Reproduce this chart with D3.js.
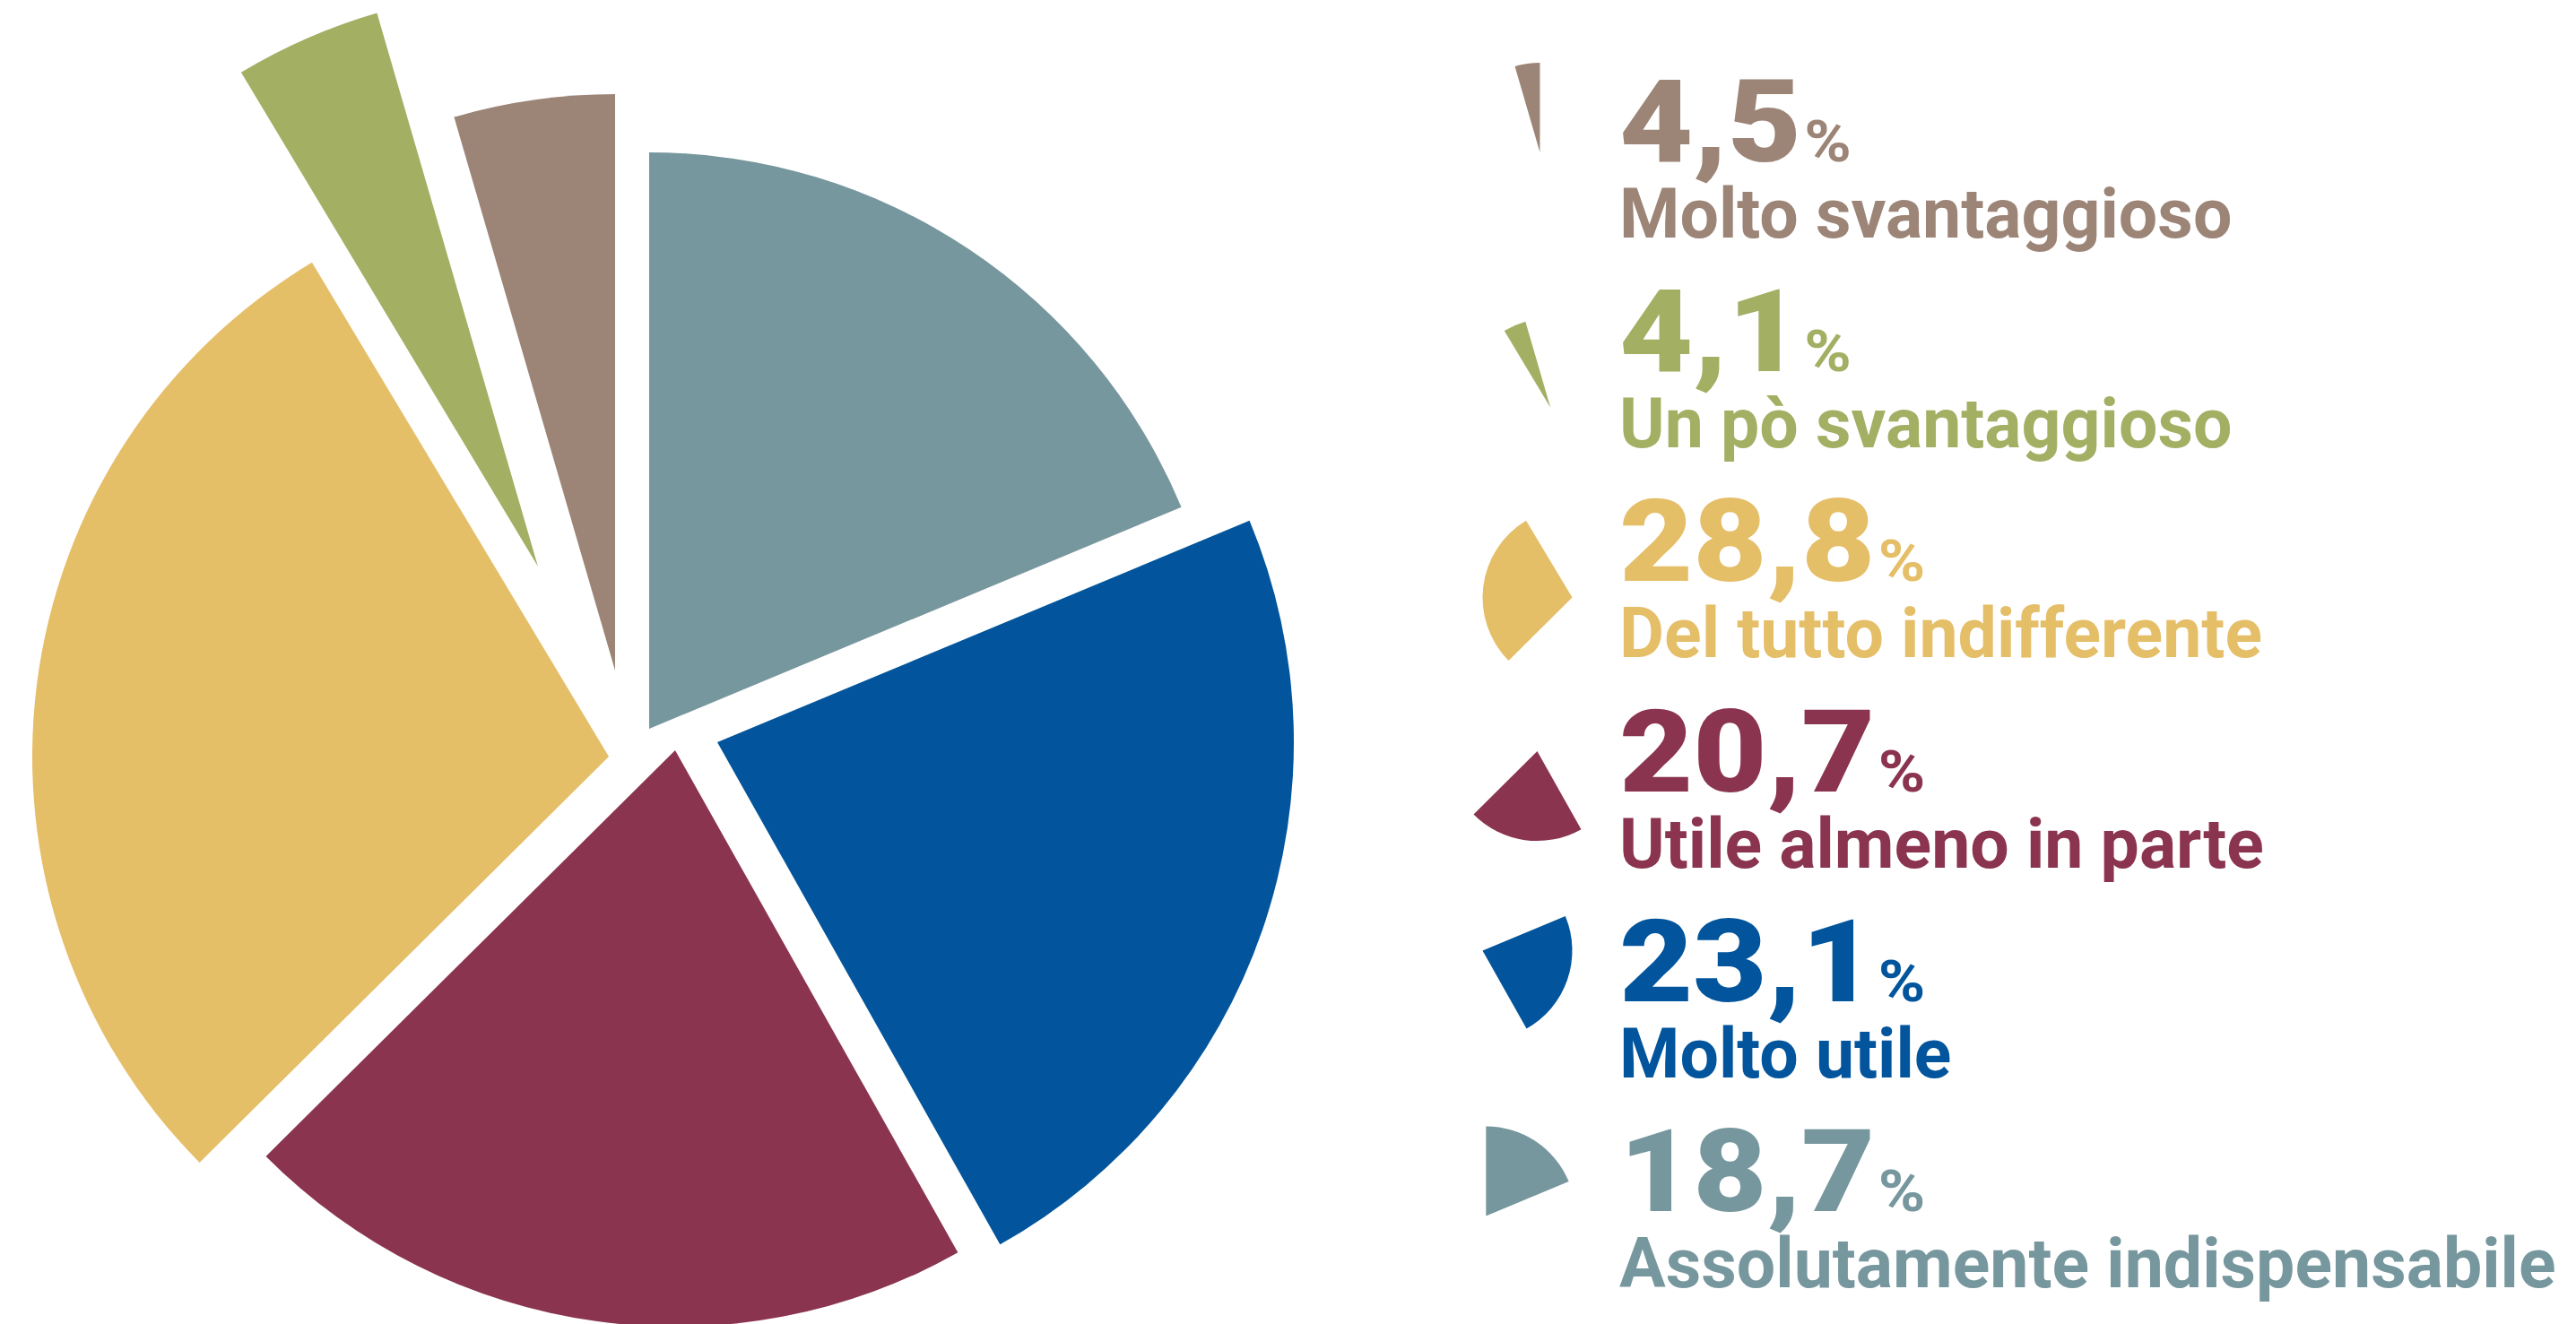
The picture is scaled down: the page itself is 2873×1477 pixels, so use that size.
<!DOCTYPE html>
<html>
<head>
<meta charset="UTF-8"/>
<title>Pie</title>
<script src="https://d3js.org/d3.v7.min.js"></script>
<style>
body { margin: 0; background: #fff; }
svg { display: block; }
text { font-family: Roboto, 'Open Sans', sans-serif; }
text.num { font-weight: 900; font-size: 128px; }
text.num tspan.pct { font-size: 64px; font-weight: 700; }
text.label { font-weight: 700; font-size: 77px; }
</style>
</head>
<body>
<svg id="chart" width="2873" height="1477"></svg>
<script>
// data, clockwise from 12 o'clock
const categories = ['Assolutamente indispensabile', 'Molto utile', 'Utile almeno in parte',
  'Del tutto indifferente', 'Un pò svantaggioso', 'Molto svantaggioso'];
const values = [18.7, 23.1, 20.7, 28.8, 4.1, 4.5];
const colors = ['#77979e', '#02559c', '#8b3450', '#e5be68', '#a3af63', '#9c8577'];

// layout
const R = 643;
const center = [720, 830];
// how far each wedge is pulled out of the pie
const explode = [[4, -17], [80, -2], [33, 7], [-41, 14], [-120, -198], [-34, -82]];
const iconR = 100;
const iconX = 1703.5;
const textX = 1806;
const firstBase = 180;
const step = 234.2;
// vertical offset of each legend icon (legend order, top to bottom)
const iconDy = [-60, -7.5, 10.5, 5.5, -32, -44.5];
const numScale = 1.11;
const labelScale = 1.0;

const it = d3.formatLocale({decimal: ',', thousands: '.', grouping: [3], currency: ['', '']});
const fmt = it.format('.1f');

const svg = d3.select('#chart');

const pie = d3.pie().sort(null).value(d => d);
const slices = pie(values);

const arc = d3.arc().innerRadius(0).outerRadius(R);
const arcSmall = d3.arc().innerRadius(0).outerRadius(iconR);

const chart = svg.append('g')
  .attr('transform', `translate(${center[0]}, ${center[1]})`);

chart.selectAll('path')
  .data(slices)
  .enter()
  .append('path')
  .attr('d', arc)
  .attr('fill', (d, i) => colors[i])
  .attr('transform', (d, i) => `translate(${explode[i][0]}, ${explode[i][1]})`);

// legend lists the slices in reverse order
const order = d3.range(values.length).reverse();

order.forEach((idx, row) => {
  const base = firstBase + row * step;
  const g = svg.append('g');

  const icon = g.append('path')
    .attr('d', arcSmall(slices[idx]))
    .attr('fill', colors[idx]);
  const bb = icon.node().getBBox();
  icon.attr('transform',
    `translate(${iconX - (bb.x + bb.width / 2)}, ${base + iconDy[row] - (bb.y + bb.height / 2)})`);

  const num = g.append('text')
    .attr('class', 'num')
    .attr('fill', colors[idx])
    .attr('transform', `translate(${textX}, ${base}) scale(${numScale}, 1)`);
  num.append('tspan').text(fmt(values[idx]));
  num.append('tspan').attr('class', 'pct').attr('dx', 3).text('%');

  g.append('text')
    .attr('class', 'label')
    .attr('fill', colors[idx])
    .attr('transform', `translate(${textX}, ${base + 85}) scale(${labelScale}, 1)`)
    .text(categories[idx]);
});
</script>
</body>
</html>
